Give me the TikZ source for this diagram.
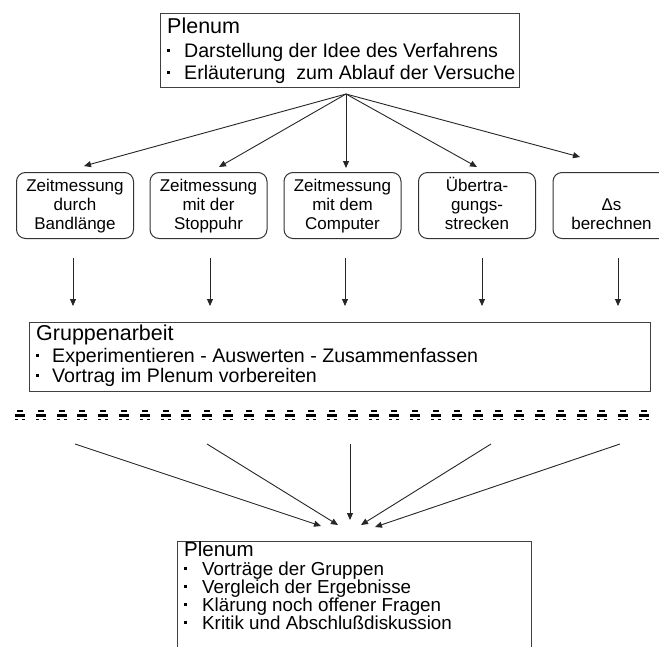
\documentclass[tikz,border=0pt]{standalone}
\usepackage{fontspec}
\setmainfont{Liberation Sans}
\usetikzlibrary{arrows.meta}
\newcommand{\bul}[1]{\makebox[#1][l]{\rule[0.28em]{2.6pt}{2.6pt}}}
\newcommand{\tp}{\vphantom{Üb}}
\newcommand{\bt}{\vphantom{gp}}
\begin{document}
\begin{tikzpicture}[x=1pt,y=-1pt]
\tikzset{
  box/.style={draw=black!75, line width=1pt, inner sep=0pt, anchor=north west},
  rbox/.style={draw=black!80, line width=1pt, rounded corners=9pt, minimum width=117pt,
     minimum height=66pt, inner sep=0pt, anchor=north, align=center,
     font=\fontsize{17}{19}\selectfont},
  txt/.style={anchor=base west, inner sep=0pt, font=\fontsize{19.6}{22}\selectfont},
  hd/.style={anchor=base west, inner sep=0pt, font=\fontsize{21.5}{24}\selectfont},
  btxt/.style={anchor=base west, inner sep=0pt, font=\fontsize{18.8}{20}\selectfont},
  bhd/.style={anchor=base west, inner sep=0pt, font=\fontsize{20.5}{24}\selectfont},
  arr/.style={-{Triangle[length=7pt,width=6pt]}, line width=0.9pt, draw=black!85},
  glyph/.style={fill=black}
}
\useasboundingbox (0,0) rectangle (659,646);
\clip (0,0) rectangle (659,646);
\fill[white] (0,0) rectangle (659,646);

% top box
\node[box, minimum width=359pt, minimum height=74pt] (top) at (160,13) {};
\node[hd] (topH) at (167,33) {Plenum};
\node[txt] (top1) at (167,57) {\bul{17pt}Darstellung der Idee des Verfahrens};
\node[txt] (top2) at (167,79) {\bul{17pt}Erläuterung\ \ zum Ablauf der Versuche};

% rounded boxes
\node[rbox] (b1) at (75,172) {\tp Zeitmessung\\durch\\Bandlänge\bt};
\node[rbox] (b2) at (208.5,172) {\tp Zeitmessung\\mit der\\Stoppuhr\bt};
\node[rbox] (b3) at (342.5,172) {\tp Zeitmessung\\mit dem\\Computer\bt};
\node[rbox] (b4) at (477,172) {\tp Übertra-\\gungs-\\strecken\bt};
\node[rbox] (b5) at (611.5,172) {\tp\\Δs\\berechnen\bt};

% fan-out arrows
\coordinate (hub) at (346,94);
\coordinate (t1) at (84,166);
\coordinate (t2) at (219,167);
\coordinate (t3) at (346,168);
\coordinate (t4) at (477,167);
\coordinate (t5) at (580,157);
\foreach \i in {1,...,5}{\draw[arr] (hub) -- (t\i);}

% down arrows
\foreach \i/\x in {1/73,2/210,3/345,4/482,5/618}{
  \coordinate (s\i) at (\x,258);
  \coordinate (e\i) at (\x,306);
  \draw[arr] (s\i) -- (e\i);
}

% group box
\node[box, minimum width=621pt, minimum height=69pt] (grp) at (29,322) {};
\node[hd] (grpH) at (36,340) {Gruppenarbeit};
\node[txt] (grp1) at (36,362) {\bul{16pt}Experimentieren - Auswerten - Zusammenfassen};
\node[txt] (grp2) at (36,382) {\bul{16pt}Vortrag im Plenum vorbereiten};

% garbled separator row
\foreach \k in {0,...,31}{
  \pgfmathsetmacro{\gx}{15+20.8*\k}
  \fill[glyph] (\gx,414) rectangle ++(10,3);
  \fill[glyph] (\gx+2,410) rectangle ++(6,1.5);
  \fill[glyph] (\gx,419) rectangle ++(3,1.3);
  \fill[glyph] (\gx+7,419) rectangle ++(3,1.3);
}

% converging arrows
\foreach \i/\x/\tx/\ty in {1/75/321/526,2/207/338/525,3/350/350/520,4/491/361/525,5/620/375/527}{
  \coordinate (u\i) at (\x,444);
  \coordinate (v\i) at (\tx,\ty);
  \draw[arr] (u\i) -- (v\i);
}

% bottom box
\node[box, minimum width=354pt, minimum height=120pt] (bot) at (177,541) {};
\node[bhd] (botH) at (184,556) {Plenum};
\node[btxt] (bot1) at (184,575) {\bul{18pt}Vorträge der Gruppen};
\node[btxt] (bot2) at (184,593) {\bul{18pt}Vergleich der Ergebnisse};
\node[btxt] (bot3) at (184,611) {\bul{18pt}Klärung noch offener Fragen};
\node[btxt] (bot4) at (184,629) {\bul{18pt}Kritik und Abschlußdiskussion};
\end{tikzpicture}
\end{document}
